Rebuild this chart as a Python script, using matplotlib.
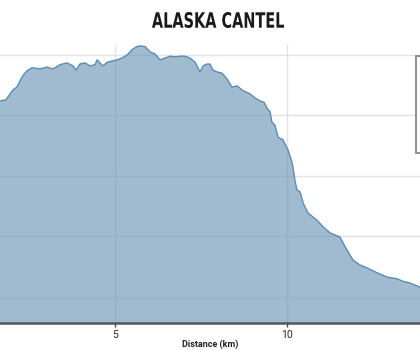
import matplotlib
matplotlib.use("Agg")
import matplotlib.pyplot as plt
from matplotlib.patches import Rectangle, PathPatch
from matplotlib.textpath import TextPath
from matplotlib.font_manager import FontProperties
from matplotlib.transforms import Affine2D, IdentityTransform

# elevation profile (distance in km, elevation in m)
distance = [1.50, 1.66, 1.83, 2.03, 2.15, 2.30, 2.44, 2.59, 2.82, 3.02, 3.20,
            3.40, 3.60, 3.78, 3.87, 3.98, 4.13, 4.27, 4.42, 4.48, 4.56, 4.65,
            4.77, 4.91, 5.06, 5.20, 5.35, 5.52, 5.64, 5.73, 5.87, 6.02, 6.16,
            6.31, 6.45, 6.60, 6.74, 6.89, 7.03, 7.18, 7.33, 7.47, 7.56, 7.67,
            7.76, 7.85, 7.97, 8.11, 8.26, 8.40, 8.55, 8.72, 8.92, 9.07, 9.22,
            9.33, 9.42, 9.51, 9.56, 9.65, 9.74, 9.88, 10.03, 10.15, 10.23,
            10.29, 10.38, 10.47, 10.61, 10.76, 10.87, 11.05, 11.25, 11.54,
            11.69, 11.92, 12.12, 12.33, 12.62, 12.91, 13.20, 13.37, 13.58,
            13.87, 14.00]
elevation = [422, 424, 426, 442, 447, 464, 474, 479, 477, 480, 477,
             484, 487, 482, 475, 485, 487, 482, 484, 492, 487, 482,
             488, 490, 492, 495, 500, 510, 514, 515, 514, 505, 502,
             492, 495, 498, 497, 498, 498, 495, 488, 472, 482, 485,
             485, 475, 472, 470, 460, 447, 449, 441, 436, 429, 424,
             422, 412, 406, 389, 384, 364, 360, 343, 322, 293,
             277, 274, 255, 239, 232, 227, 216, 206, 199,
             183, 161, 153, 148, 140, 133, 130, 126, 123,
             116, 114]

x_ticks = [5, 10]
y_grid = [100, 200, 300, 400, 500]
title = "ALASKA CANTEL"
x_label = "Distance (km)"

plt.rcParams['font.family'] = ['Roboto', 'DejaVu Sans']

fig = plt.figure(figsize=(4.2, 3.5), dpi=100)
ax = fig.add_axes([0.0, 0.0771, 1.0, 0.7943])

ax.fill_between(distance, elevation, 0, color="#618eaf", alpha=0.6,
                linewidth=0, zorder=2)
ax.plot(distance, elevation, color="#5b8bb3", linewidth=1.0, zorder=3)

ax.set_xlim(1.657, 13.866)
ax.set_ylim(57, 516.5)
ax.set_xticks(x_ticks)
ax.set_yticks(y_grid)
ax.set_yticklabels([])
ax.grid(True, color="#e3e3e3", linewidth=1.0, zorder=1)
ax.set_axisbelow(True)

for side in ("top", "left", "right"):
    ax.spines[side].set_visible(False)
ax.spines["bottom"].set_color("#555555")
ax.spines["bottom"].set_linewidth(1.8)
ax.spines["bottom"].set_zorder(4)
ax.tick_params(axis="x", length=3, width=1, color="#444444", pad=2,
               labelsize=7.5, labelcolor="#222222")
ax.tick_params(axis="y", length=0)
ax.set_xlabel(x_label, fontsize=6.5, fontweight="bold", color="#222222",
              labelpad=0)

# condensed bold title: squeeze a text path horizontally
tp = TextPath((0, 0), title, size=20,
              prop=FontProperties(family="DejaVu Sans", weight="bold"))
bb = tp.get_extents()
tw, th = 132, 16          # target width / cap height in pixels
cx, base = 218, 350 - 28  # centre x and baseline in display pixels
tr = (Affine2D().translate(-bb.x0 - bb.width / 2, -bb.y0)
      .scale(tw / bb.width, th / bb.height).translate(cx, base))
fig.patches.append(PathPatch(tr.transform_path(tp), transform=IdentityTransform(),
                             facecolor="#1a1a1a", edgecolor="none"))

# legend box cut off at the right edge
fig.patches.append(Rectangle((416 / 420, 1 - 153 / 350), 0.05, 97 / 350,
                             transform=fig.transFigure, facecolor="white",
                             edgecolor="#888888", linewidth=1.3, zorder=5))

fig.savefig("out.png", dpi=100)
